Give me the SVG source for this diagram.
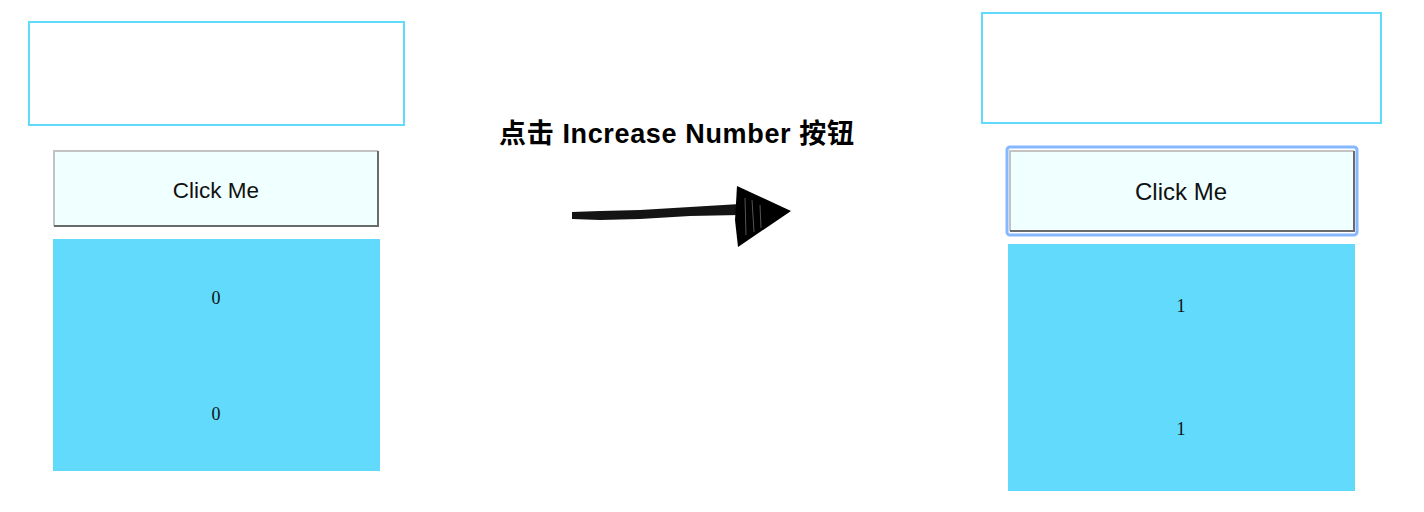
<svg xmlns="http://www.w3.org/2000/svg" width="1424" height="512" viewBox="0 0 1424 512">
<style>
.frame{fill:#ffffff;stroke:#61dafb;stroke-width:2}
.btn{fill:#f0ffff}
.hi{fill:none;stroke:#c3c3c3;stroke-width:2}
.lo{fill:none;stroke:#6b6b6b;stroke-width:2}
.panel{fill:#61dafb}
.btxt{font-family:"Liberation Sans",Arial,sans-serif;font-size:22.5px;fill:#111;text-anchor:middle}
.num{font-family:"Liberation Serif","Times New Roman",serif;font-size:18px;fill:#111;text-anchor:middle}
.title{font-family:"Liberation Sans","Noto Sans CJK SC",sans-serif;font-size:27px;font-weight:bold;fill:#000}
</style>
<rect width="1424" height="512" fill="#ffffff"/>
<g id="left-frame"><rect class="frame" x="29" y="22" width="375" height="103"/></g>
<g id="left-button">
<rect class="btn" x="53" y="150" width="326" height="77"/>
<polyline class="hi" points="54,226 54,151 378,151"/>
<polyline class="lo" points="378,151 378,226 54,226"/>
<text class="btxt" x="216" y="198">Click Me</text>
</g>
<g id="left-panel">
<rect class="panel" x="53" y="239" width="327" height="232"/>
<text class="num" x="216" y="304">0</text>
<text class="num" x="216" y="420">0</text>
</g>
<g id="right-frame"><rect class="frame" x="982" y="13" width="399" height="110"/></g>
<g id="right-button">
<rect x="1007" y="147" width="350" height="88" rx="3" fill="none" stroke="#86b8ff" stroke-width="3"/>
<rect class="btn" x="1009" y="150" width="346" height="82"/>
<polyline class="hi" points="1010,231 1010,151 1354,151"/>
<polyline class="lo" points="1354,151 1354,231 1010,231"/>
<text class="btxt" x="1181" y="200" style="font-size:24px">Click Me</text>
</g>
<g id="right-panel">
<rect class="panel" x="1008" y="244" width="347" height="247"/>
<text class="num" x="1181" y="312">1</text>
<text class="num" x="1181" y="435">1</text>
</g>
<g id="label"><text class="title" x="499" y="143" textLength="355" lengthAdjust="spacing">点击 Increase Number 按钮</text></g>
<g id="connectors">
<path d="M572,212 L600,211 L640,210 L690,207 L740,204 L740,215 L690,216 L640,219 L600,220 L572,219 Z" fill="#000" opacity="0.92"/>
<path d="M737,186 L791,211 L738,247 L735,220 Z" fill="#000"/>
<path d="M745,198 L746,235 M752,200 L754,232 M760,205 L761,228" stroke="#555" stroke-width="1" fill="none"/>
</g>
</svg>
